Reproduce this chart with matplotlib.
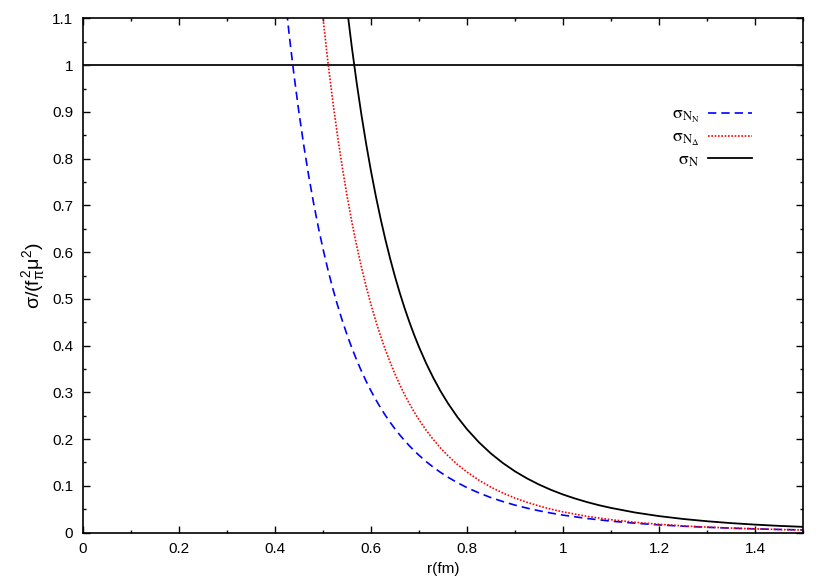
import matplotlib
matplotlib.use("Agg")
import matplotlib.pyplot as plt
from matplotlib.ticker import MultipleLocator, FormatStrFormatter

# ---- data ----
r_blue = [0.42, 0.43, 0.44, 0.45, 0.46, 0.47, 0.48, 0.49, 0.50, 0.51, 0.52, 0.53, 0.54,
          0.55, 0.56, 0.57, 0.58, 0.59, 0.60, 0.61, 0.62, 0.63, 0.64, 0.65, 0.66, 0.67,
          0.68, 0.69, 0.70, 0.715, 0.73, 0.745, 0.76, 0.78, 0.80, 0.825, 0.85, 0.875,
          0.90, 0.925, 0.95, 0.975, 1.00, 1.05, 1.10, 1.15, 1.20, 1.25, 1.30, 1.35,
          1.40, 1.45, 1.50]
sigma_NN = [1.1564, 1.0611, 0.9753, 0.8979, 0.8279, 0.7644, 0.7069, 0.6546, 0.6070,
            0.5634, 0.5237, 0.4874, 0.4540, 0.4234, 0.3953, 0.3694, 0.3455, 0.3235,
            0.3031, 0.2843, 0.2669, 0.2507, 0.2357, 0.2218, 0.2089, 0.1968, 0.1856,
            0.1751, 0.1654, 0.1519, 0.1397, 0.1287, 0.1187, 0.1068, 0.0962, 0.0848,
            0.0748, 0.0663, 0.0588, 0.0524, 0.0467, 0.0418, 0.0374, 0.0302, 0.0245,
            0.0201, 0.0165, 0.0137, 0.0114, 0.0095, 0.0080, 0.0067, 0.0057]

r_red = [0.49, 0.50, 0.51, 0.52, 0.53, 0.54, 0.55, 0.56, 0.57, 0.58, 0.59, 0.60, 0.61,
         0.62, 0.63, 0.64, 0.65, 0.66, 0.67, 0.68, 0.69, 0.70, 0.715, 0.73, 0.745, 0.76,
         0.78, 0.80, 0.825, 0.85, 0.875, 0.90, 0.925, 0.95, 0.975, 1.00, 1.05, 1.10,
         1.15, 1.20, 1.25, 1.30, 1.35, 1.40, 1.45, 1.50]
sigma_NDelta = [1.2036, 1.1010, 1.0086, 0.9255, 0.8504, 0.7825, 0.7210, 0.6651, 0.6144,
                0.5682, 0.5261, 0.4877, 0.4526, 0.4205, 0.3910, 0.3640, 0.3391, 0.3163,
                0.2952, 0.2758, 0.2579, 0.2413, 0.2188, 0.1987, 0.1808, 0.1647, 0.1458,
                0.1295, 0.1120, 0.0971, 0.0846, 0.0739, 0.0648, 0.0569, 0.0501, 0.0443,
                0.0348, 0.0276, 0.0221, 0.0178, 0.0144, 0.0118, 0.0097, 0.0080, 0.0066,
                0.0055]

r_black = [0.55, 0.56, 0.57, 0.58, 0.59, 0.60, 0.61, 0.62, 0.63, 0.64, 0.65, 0.66, 0.67,
           0.68, 0.69, 0.70, 0.715, 0.73, 0.745, 0.76, 0.78, 0.80, 0.825, 0.85, 0.875,
           0.90, 0.925, 0.95, 0.975, 1.00, 1.025, 1.05, 1.075, 1.10, 1.15, 1.20, 1.25,
           1.30, 1.35, 1.40, 1.45, 1.50]
sigma_N = [1.1219, 1.0389, 0.9632, 0.8941, 0.8309, 0.7731, 0.7201, 0.6714, 0.6267,
           0.5855, 0.5475, 0.5126, 0.4802, 0.4503, 0.4226, 0.3970, 0.3619, 0.3306,
           0.3024, 0.2771, 0.2472, 0.2211, 0.1930, 0.1690, 0.1486, 0.1310, 0.1159,
           0.1028, 0.0914, 0.0815, 0.0729, 0.0653, 0.0586, 0.0528, 0.0430, 0.0353,
           0.0292, 0.0243, 0.0203, 0.0171, 0.0144, 0.0123]

unity_level = 1.0
x_limits = (0.0, 1.5)
y_limits = (0.0, 1.1)

labels = [r'$\mathrm{\sigma}_{\mathrm{N}_\mathrm{N}}$',
          r'$\mathrm{\sigma}_{\mathrm{N}_\mathrm{\Delta}}$',
          r'$\mathrm{\sigma}_\mathrm{N}$']

# ---- styling ----
plt.rcParams['font.family'] = ['Liberation Sans', 'DejaVu Sans']
plt.rcParams['mathtext.fontset'] = 'custom'
plt.rcParams['mathtext.rm'] = 'Liberation Sans'
plt.rcParams['mathtext.it'] = 'Liberation Sans'
plt.rcParams['mathtext.sf'] = 'Liberation Sans'

fig = plt.figure(figsize=(8.3, 5.81), dpi=100)
ax = fig.add_axes([0.1, 0.0833, 0.8675, 0.885])

ax.axhline(unity_level, color='#1a1a1a', lw=1.4)
ax.plot(r_blue, sigma_NN, color='#0000ff', lw=1.2, linestyle=(0, (5, 3)), label=labels[0])
ax.plot(r_red, sigma_NDelta, color='#ff0000', lw=1.2, linestyle=(0, (1, 1)), label=labels[1])
ax.plot(r_black, sigma_N, color='black', lw=1.3, label=labels[2])

ax.set_xlim(*x_limits)
ax.set_ylim(*y_limits)

ax.xaxis.set_major_locator(MultipleLocator(0.2))
ax.xaxis.set_minor_locator(MultipleLocator(0.1))
ax.yaxis.set_major_locator(MultipleLocator(0.1))
ax.yaxis.set_minor_locator(MultipleLocator(0.05))
ax.xaxis.set_major_formatter(FormatStrFormatter('%g'))
ax.yaxis.set_major_formatter(FormatStrFormatter('%g'))

ax.tick_params(which='both', direction='in', top=True, right=True, width=1.0,
               labelsize=11, pad=7)
ax.tick_params(which='major', length=5)
ax.tick_params(which='minor', length=2.5)
for s in ax.spines.values():
    s.set_linewidth(1.2)

ax.set_xlabel('r(fm)', fontsize=11, labelpad=4)
ax.set_ylabel(r'$\sigma/(\mathrm{f}_\pi^{\,2}\mu^2)$', fontsize=14, labelpad=4)

leg = ax.legend(loc='upper right', bbox_to_anchor=(0.929, 0.829), frameon=False,
                markerfirst=False, fontsize=13, handlelength=2.45, handletextpad=0.45,
                borderpad=0, borderaxespad=0, labelspacing=0.2)
for t in leg.get_texts():
    t.set_math_fontfamily('stix')

fig.savefig('out.png', dpi=100)
